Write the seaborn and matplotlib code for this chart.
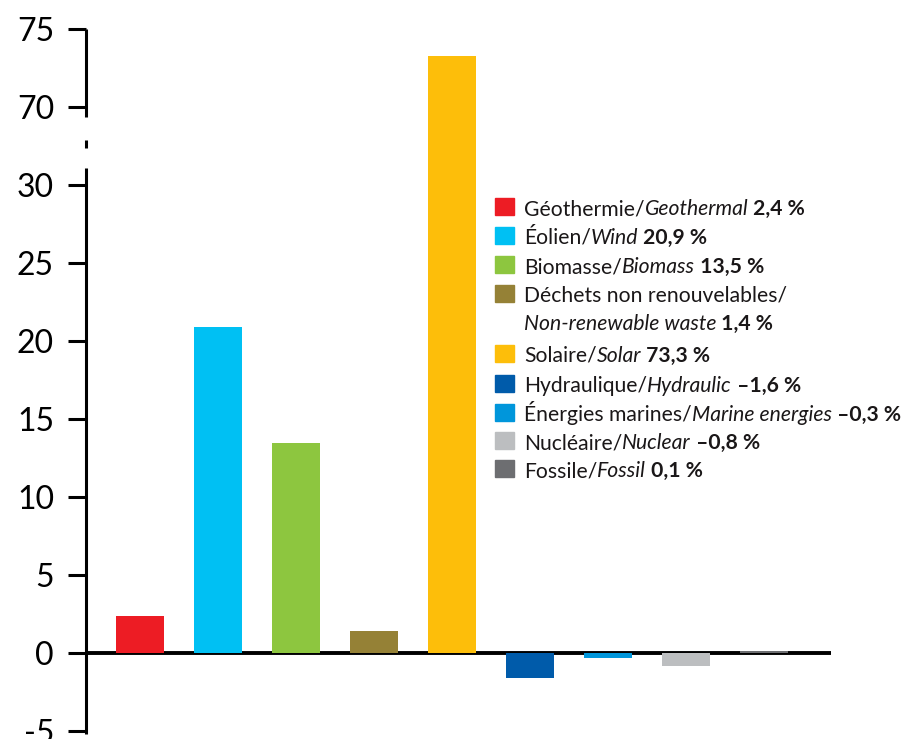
import numpy as np
import matplotlib
matplotlib.use("Agg")
import matplotlib.pyplot as plt
import seaborn as sns
from matplotlib.transforms import blended_transform_factory
from matplotlib.patches import Rectangle

# Growth of electricity generation by source (%)
sources_fr = ["Géothermie/", "Éolien/", "Biomasse/", "Déchets non renouvelables/",
              "Solaire/", "Hydraulique/", "Énergies marines/", "Nucléaire/", "Fossile/"]
sources_en = ["Geothermal", "Wind", "Biomass", "Non-renewable waste",
              "Solar", "Hydraulic", "Marine energies", "Nuclear", "Fossil"]
shares = [2.4, 20.9, 13.5, 1.4, 73.3, -1.6, -0.3, -0.8, 0.1]
share_labels = ["2,4 %", "20,9 %", "13,5 %", "1,4 %", "73,3 %",
                "–1,6 %", "–0,3 %", "–0,8 %", "0,1 %"]
colors = ["#ED1C24", "#00C0F3", "#8DC63F", "#958136", "#FDBE0A",
          "#005BAA", "#0096DB", "#BCBEC0", "#6D6E71"]
y_ticks = [-5, 0, 5, 10, 15, 20, 25, 30, 70, 75]

sns.set_style("white")
plt.rcParams["font.family"] = ["Lato", "DejaVu Sans"]

W, H = 917, 739
fig = plt.figure(figsize=(W / 100, H / 100), dpi=100)
px_left, px_right, px_top, px_bottom = 86, 831, 24, 734.1
ax = fig.add_axes([px_left / W, 1 - px_bottom / H,
                   (px_right - px_left) / W, (px_bottom - px_top) / H])


# Broken y axis: 30..70 squeezed into a small gap
def fwd(v):
    v = np.asarray(v, dtype=float)
    return np.where(v <= 30, v, np.where(v >= 70, v - 35, 30 + (v - 30) / 8))


def inv(t):
    t = np.asarray(t, dtype=float)
    return np.where(t <= 30, t, np.where(t >= 35, t + 35, 30 + (t - 30) * 8))


ax.set_yscale("function", functions=(fwd, inv))

sns.barplot(x=sources_en, y=shares, hue=sources_en, palette=colors,
            saturation=1, width=0.62, legend=False, ax=ax, zorder=3,
            linewidth=0)

ax.set_xlim(-0.69, 8.86)
ax.set_ylim(-5.2, 75.35)
ax.axhline(0, color="black", lw=2.8, zorder=2)

ax.set_yticks(y_ticks)
ax.set_yticklabels([str(t) for t in y_ticks], fontsize=23, color="black")
ax.tick_params(axis="y", length=13, width=2.2, pad=10, color="black", left=True)
ax.set_xticks([])
for side in ["top", "right", "bottom", "left"]:
    ax.spines[side].set_visible(False)

# left axis line with a break mark
bt = blended_transform_factory(ax.transAxes, ax.transData)
for lo, hi in [(-5.2, 38.8), (49.2, 53.2), (64.9, 75.0)]:
    ax.plot([0, 0], [lo, hi], transform=bt, color="black", lw=2.2,
            clip_on=False, solid_capstyle="butt")

# Legend with French / italic English / bold value on each row
fig.canvas.draw()
renderer = fig.canvas.get_renderer()
fs = 15.2
baselines = [215, 244, 273, 302, 362, 392, 421, 449, 477]
sq_x, sq_w, sq_h, txt_x = 495, 19, 17, 524


def put(x_px, y_px, s, **kw):
    t = fig.text(x_px / W, 1 - y_px / H, s, fontsize=fs, va="baseline",
                 ha="left", color="#1A1718", **kw)
    return x_px + t.get_window_extent(renderer).width


for i in range(len(shares)):
    yb = baselines[i]
    fig.patches.append(Rectangle(((sq_x) / W, 1 - yb / H), sq_w / W, sq_h / H,
                                 transform=fig.transFigure, color=colors[i]))
    if i == 3:
        put(txt_x, yb, sources_fr[i])
        yb2 = yb + 28
        x = put(txt_x, yb2, sources_en[i], style="italic")
        put(x, yb2, " " + share_labels[i], weight="bold")
    else:
        x = put(txt_x, yb, sources_fr[i])
        x = put(x, yb, sources_en[i], style="italic")
        put(x, yb, " " + share_labels[i], weight="bold")

fig.savefig("out.png", dpi=100)
